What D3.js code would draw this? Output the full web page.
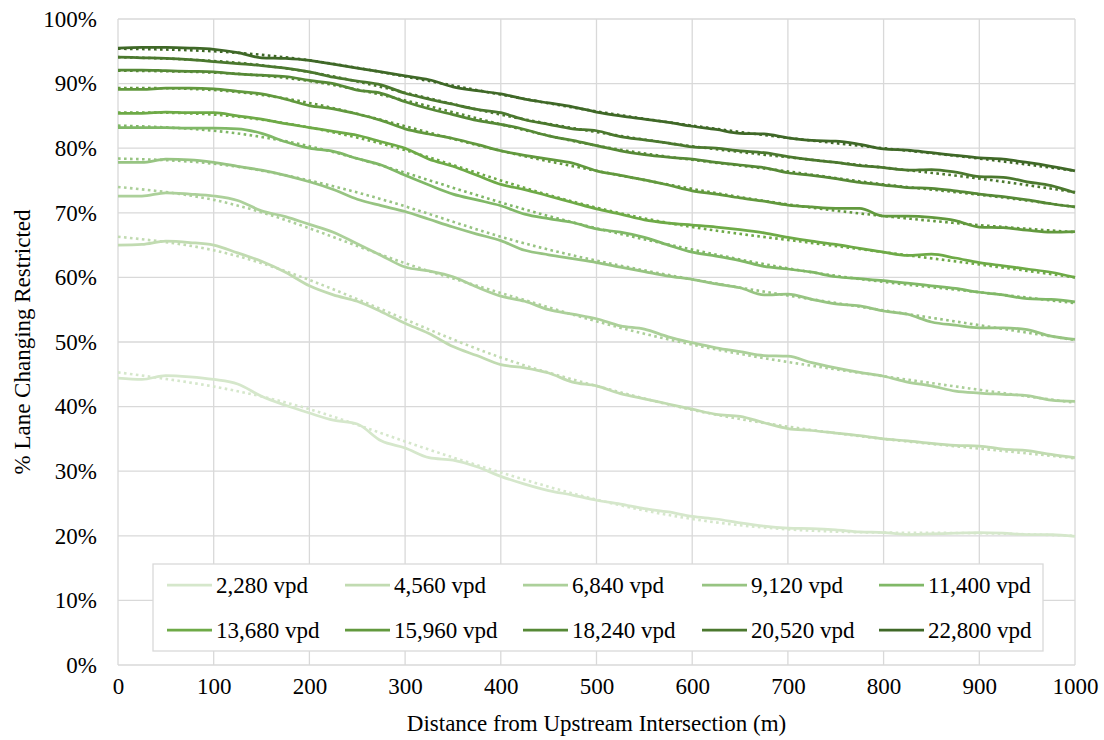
<!DOCTYPE html>
<html>
<head>
<meta charset="utf-8">
<script src="https://cdn.jsdelivr.net/npm/d3@7"></script>
<style>
  html, body { margin: 0; padding: 0; background: #ffffff; }
  svg { display: block; }
  text { font-family: "Liberation Serif", "Times New Roman", serif; fill: #000; }
</style>
</head>
<body>
<svg id="chart" width="1104" height="740"></svg>
<script>
// ---------------- DATA ----------------
const seriesNames = ["2,280 vpd", "4,560 vpd", "6,840 vpd", "9,120 vpd", "11,400 vpd",
                     "13,680 vpd", "15,960 vpd", "18,240 vpd", "20,520 vpd", "22,800 vpd"];
const seriesColors = ["#d5e7cb", "#c1dbb1", "#acd09a", "#97c482", "#80b867",
                      "#6eaa47", "#62993e", "#568936", "#4b782e", "#3f6827"];

// distance (m) for the observed curves
const distance = [0, 25, 50, 75, 100, 125, 150, 175, 200, 225, 250, 275, 300, 325, 350, 375, 400,
  425, 450, 475, 500, 525, 550, 575, 600, 625, 650, 675, 700, 725, 750, 775, 800, 825, 850, 875,
  900, 925, 950, 975, 1000];

// observed % lane changing restricted (percent)
const v2280 = [44.4, 44.2, 44.8, 44.6, 44.2, 43.5, 41.6, 40.2, 39.0, 37.9, 37.3, 34.7, 33.6, 32.1, 31.7,
  30.7, 29.2, 28.0, 27.0, 26.3, 25.5, 24.9, 24.2, 23.7, 23.0, 22.6, 22.0, 21.5, 21.2, 21.1, 20.9, 20.6,
  20.5, 20.2, 20.3, 20.4, 20.5, 20.4, 20.2, 20.2, 19.9];
const v4560 = [65.0, 65.1, 65.6, 65.4, 65.0, 63.8, 62.5, 60.8, 58.7, 57.3, 56.3, 54.7, 52.9, 51.3, 49.3,
  47.9, 46.5, 46.0, 45.2, 43.8, 43.2, 42.0, 41.2, 40.4, 39.6, 38.8, 38.5, 37.5, 36.6, 36.3, 35.9, 35.5,
  35.0, 34.7, 34.3, 34.0, 33.9, 33.4, 33.2, 32.6, 32.1];
const v6840 = [72.6, 72.6, 73.1, 72.9, 72.6, 71.9, 70.3, 69.4, 68.2, 67.0, 65.2, 63.4, 61.6, 61.0, 60.1,
  58.5, 57.1, 56.3, 55.0, 54.3, 53.6, 52.5, 52.0, 50.8, 49.9, 49.1, 48.5, 47.9, 47.8, 46.8, 46.0, 45.3,
  44.7, 43.8, 43.2, 42.4, 42.1, 41.9, 41.7, 41.0, 40.8];
const v9120 = [77.8, 77.8, 78.3, 78.2, 77.8, 77.2, 76.6, 75.8, 74.8, 73.6, 72.1, 71.1, 70.2, 69.0, 67.8,
  66.7, 65.7, 64.2, 63.5, 62.9, 62.3, 61.6, 60.9, 60.2, 59.7, 59.0, 58.4, 57.3, 57.4, 56.6, 55.9, 55.6,
  54.8, 54.3, 53.1, 52.6, 52.2, 52.2, 51.9, 50.9, 50.4];
const v11400 = [83.2, 83.2, 83.2, 83.1, 83.1, 83.0, 82.3, 81.0, 80.0, 79.5, 78.4, 77.4, 75.8, 74.3, 72.9,
  72.0, 71.1, 69.8, 69.1, 68.5, 67.5, 67.0, 66.2, 65.0, 63.9, 63.3, 62.6, 61.7, 61.3, 60.8, 60.1, 59.8,
  59.5, 59.1, 58.7, 58.3, 57.7, 57.3, 56.7, 56.6, 56.2];
const v13680 = [85.4, 85.4, 85.6, 85.5, 85.5, 85.0, 84.5, 83.8, 83.2, 82.6, 82.0, 81.0, 80.0, 78.3, 77.2,
  75.8, 74.4, 73.6, 72.6, 71.6, 70.6, 69.8, 68.9, 68.4, 68.1, 67.8, 67.4, 66.9, 66.2, 65.6, 65.1, 64.5,
  63.9, 63.4, 63.6, 63.0, 62.3, 61.8, 61.3, 60.8, 60.0];
const v15960 = [89.1, 89.1, 89.3, 89.3, 89.2, 88.8, 88.4, 87.6, 86.6, 86.1, 85.3, 84.3, 83.0, 82.2, 81.5,
  80.6, 79.6, 78.9, 78.3, 77.7, 76.5, 75.8, 75.1, 74.3, 73.4, 72.9, 72.3, 71.8, 71.2, 70.9, 70.7, 70.7,
  69.5, 69.5, 69.3, 68.8, 67.8, 67.7, 67.3, 67.0, 67.1];
const v18240 = [92.1, 92.1, 92.0, 91.9, 91.8, 91.5, 91.3, 91.1, 90.5, 90.0, 89.0, 88.5, 87.2, 86.1, 85.2,
  84.3, 83.7, 82.9, 81.9, 81.2, 80.4, 79.6, 79.0, 78.6, 78.3, 77.8, 77.4, 77.0, 76.2, 75.8, 75.3, 74.7,
  74.3, 73.9, 73.8, 73.4, 72.9, 72.5, 72.0, 71.4, 70.9];
const v20520 = [94.1, 94.0, 93.9, 93.7, 93.4, 93.1, 92.8, 92.4, 91.8, 91.0, 90.4, 89.8, 88.5, 87.6, 86.8,
  86.0, 85.5, 84.4, 83.7, 83.0, 82.7, 81.8, 81.3, 80.8, 80.2, 80.0, 79.6, 79.3, 78.7, 78.2, 77.8, 77.3,
  77.0, 76.6, 76.7, 76.3, 75.6, 75.5, 74.8, 74.2, 73.1];
const v22800 = [95.5, 95.6, 95.6, 95.5, 95.3, 94.8, 94.0, 93.9, 93.6, 93.0, 92.4, 91.8, 91.2, 90.6, 89.5,
  88.9, 88.4, 87.6, 87.0, 86.4, 85.6, 85.0, 84.5, 84.0, 83.4, 82.9, 82.3, 82.2, 81.6, 81.2, 81.1, 80.6,
  79.9, 79.7, 79.3, 78.9, 78.5, 78.3, 77.8, 77.2, 76.5];

// trendline readings (dotted), every 100 m
const trendDistance = [0, 100, 200, 300, 400, 500, 600, 700, 800, 900, 1000];
const t2280  = [45.3, 43.1, 39.6, 34.6, 29.8, 25.6, 22.6, 21.0, 20.5, 20.4, 20.0];
const t4560  = [66.3, 64.2, 59.6, 53.5, 47.6, 43.2, 39.5, 36.9, 35.0, 33.5, 32.0];
const t6840  = [74.0, 72.0, 67.6, 62.2, 57.6, 53.2, 49.6, 46.9, 44.7, 42.6, 40.6];
const t9120  = [78.4, 77.6, 75.0, 71.0, 66.3, 62.6, 59.7, 57.2, 54.9, 52.6, 50.3];
const t11400 = [83.5, 82.7, 80.3, 76.2, 71.6, 67.6, 64.3, 61.4, 59.3, 57.7, 56.0];
const t13680 = [85.5, 85.2, 83.2, 79.7, 75.0, 70.8, 67.8, 65.8, 63.9, 62.0, 60.0];
const t15960 = [89.3, 89.0, 87.0, 83.4, 79.6, 76.5, 73.7, 71.3, 69.5, 68.1, 67.0];
const t18240 = [92.0, 91.7, 90.4, 87.4, 83.7, 80.4, 78.2, 76.4, 74.4, 72.8, 70.9];
const t20520 = [94.1, 93.5, 91.8, 88.6, 85.2, 82.5, 80.3, 78.6, 77.0, 75.3, 73.2];
const t22800 = [95.4, 95.0, 93.6, 91.1, 88.3, 85.7, 83.5, 81.6, 80.0, 78.4, 76.5];

const xTicks = [0, 100, 200, 300, 400, 500, 600, 700, 800, 900, 1000];
const yTicks = [0, 10, 20, 30, 40, 50, 60, 70, 80, 90, 100];
const xTitle = "Distance from Upstream Intersection (m)";
const yTitle = "% Lane Changing Restricted";

const observed = [v2280, v4560, v6840, v9120, v11400, v13680, v15960, v18240, v20520, v22800];
const trends = [t2280, t4560, t6840, t9120, t11400, t13680, t15960, t18240, t20520, t22800];

// ---------------- CHART ----------------
const svg = d3.select("#chart");
const x = d3.scaleLinear().domain([0, 1000]).range([118, 1075]);
const y = d3.scaleLinear().domain([0, 100]).range([665, 19]);
const grid = "#d9d9d9";
const fs = "23px";

// gridlines
svg.append("g").selectAll("line.h").data(yTicks).join("line")
  .attr("x1", x(0)).attr("x2", x(1000))
  .attr("y1", d => y(d)).attr("y2", d => y(d))
  .attr("stroke", grid).attr("stroke-width", 1.3);
svg.append("g").selectAll("line.v").data(xTicks).join("line")
  .attr("x1", d => x(d)).attr("x2", d => x(d))
  .attr("y1", y(0)).attr("y2", y(100))
  .attr("stroke", grid).attr("stroke-width", 1.3);

// axes (labels only)
const yAxis = svg.append("g").attr("transform", `translate(${x(0)},0)`)
  .call(d3.axisLeft(y).tickValues(yTicks).tickSize(0).tickPadding(21).tickFormat(d => d + "%"));
const xAxis = svg.append("g").attr("transform", `translate(0,${y(0)})`)
  .call(d3.axisBottom(x).tickValues(xTicks).tickSize(0).tickPadding(13).tickFormat(d3.format("d")));
[yAxis, xAxis].forEach(g => {
  g.select(".domain").remove();
  g.selectAll("text").style("font-family", "'Liberation Serif', serif")
    .style("font-size", fs).attr("fill", "#000");
});

// titles
svg.append("text").attr("x", (x(0) + x(1000)) / 2).attr("y", 731)
  .attr("text-anchor", "middle").style("font-size", fs).text(xTitle);
svg.append("text").attr("transform", `translate(30,${(y(0) + y(100)) / 2}) rotate(-90)`)
  .attr("text-anchor", "middle").style("font-size", fs).text(yTitle);

// lines
const plot = svg.append("g");
const solidLine = d3.line().x((d, i) => x(distance[i])).y(d => y(d)).curve(d3.curveMonotoneX);
const trendLine = d3.line().x((d, i) => x(trendDistance[i])).y(d => y(d)).curve(d3.curveNatural);

observed.forEach((vals, k) => {
  plot.append("path").datum(trends[k])
    .attr("d", trendLine).attr("fill", "none")
    .attr("stroke", seriesColors[k]).attr("stroke-width", 2.6)
    .attr("stroke-dasharray", "2.6,3.4");
  plot.append("path").datum(vals)
    .attr("d", solidLine).attr("fill", "none")
    .attr("stroke", seriesColors[k]).attr("stroke-width", 2.75)
    .attr("stroke-linejoin", "round");
});

// legend
const legend = svg.append("g");
legend.append("rect").attr("x", 153).attr("y", 564).attr("width", 890).attr("height", 87)
  .attr("fill", "#fff").attr("stroke", grid).attr("stroke-width", 1.3);
const colX = [167, 345, 523, 702, 879];
const rowY = [585, 630];
seriesNames.forEach((name, k) => {
  const cx = colX[k % 5], cy = rowY[Math.floor(k / 5)];
  legend.append("line").attr("x1", cx).attr("x2", cx + 45).attr("y1", cy).attr("y2", cy)
    .attr("stroke", seriesColors[k]).attr("stroke-width", 2.75);
  legend.append("text").attr("x", cx + 49).attr("y", cy + 8).style("font-size", fs).text(name);
});
</script>
</body>
</html>
